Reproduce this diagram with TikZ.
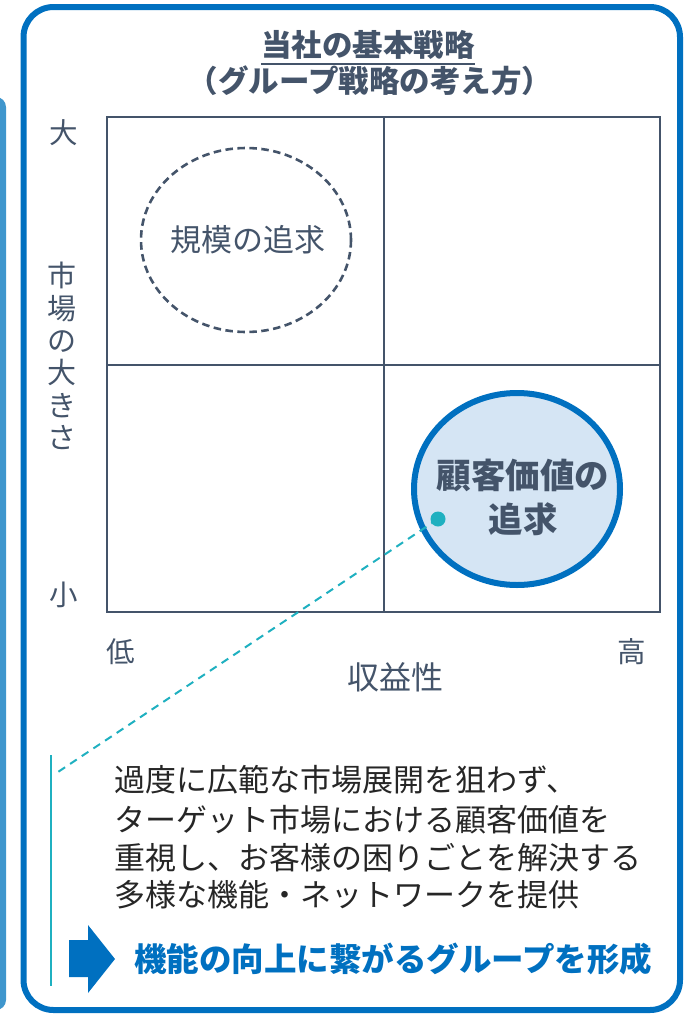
\documentclass[tikz,border=0pt]{standalone}
\usepackage{fontspec}
\usetikzlibrary{shapes.geometric}
\setmainfont{Noto Sans CJK JP}
\definecolor{frameblue}{HTML}{0070C0}
\definecolor{slate}{HTML}{44546A}
\definecolor{lightfill}{HTML}{D5E5F4}
\definecolor{teal}{HTML}{1FB0C0}
\definecolor{bodytext}{HTML}{262626}
\definecolor{barblue}{HTML}{3F96CD}
\begin{document}
\begin{tikzpicture}[x=1pt,y=-1pt,
  lbl/.style={text=slate,font=\fontsize{28.5}{30}\selectfont,inner sep=0pt},
  body/.style={text=bodytext,font=\fontsize{31}{33}\selectfont,inner sep=0pt,anchor=west},
  gridline/.style={draw=slate,line width=2pt}]
\useasboundingbox (0,0) rectangle (690,1015);
% partial neighbouring panel
\fill[barblue,rounded corners=10pt] (-30,97) rectangle (6,1010);
% main frame
\draw[frameblue,line width=6pt,rounded corners=30pt] (23.5,7) rectangle (680,1010);
% title
\node[text=slate,font=\bfseries\fontsize{30.5}{32}\selectfont,inner sep=0pt] (t1) at (368,45) {当社の基本戦略};
\draw[slate,line width=2pt] ([yshift=-4pt]t1.south west) -- ([yshift=-4pt]t1.south east);
\node[text=slate,font=\bfseries\fontsize{30.5}{32}\selectfont,inner sep=0pt] (t2) at (370,81) {（グループ戦略の考え方）};
% grid
\draw[gridline] (107,117) rectangle (660,612);
\draw[gridline] (384,117) -- (384,612);
\draw[gridline] (107,365) -- (660,365);
% axis labels
\node[lbl] (big) at (64,133) {大};
\node[lbl] (small) at (64,595) {小};
\node[lbl,align=center,font=\fontsize{29}{32.4}\selectfont] (ylab) at (62,356) {市\\場\\の\\大\\き\\さ};
\node[lbl] (low) at (121,652) {低};
\node[lbl] (high) at (632,652) {高};
\node[lbl,font=\fontsize{32}{34}\selectfont] (xlab) at (395,677) {収益性};
% dashed circle
\draw[slate,line width=2.6pt,dash pattern=on 7.5pt off 4.5pt] (246,240) ellipse [x radius=105pt,y radius=92pt];
\node[text=slate,font=\fontsize{31}{33}\selectfont,inner sep=0pt] (scale) at (248,240) {規模の追求};
% blue ellipse
\draw[frameblue,fill=lightfill,line width=6pt] (517,489) ellipse [x radius=103pt,y radius=96pt];
\node[text=slate,font=\bfseries\fontsize{34.5}{44}\selectfont,align=center,inner sep=0pt] (value) at (523,497) {顧客価値の\\追求};
% teal dot and dashed connector
\fill[teal] (438,519) circle (7.5pt);
\coordinate (dot) at (438,519);
\coordinate (lineend) at (58,772);
\draw[teal,line width=2pt,dash pattern=on 8pt off 6pt] (dot) -- (lineend);
\coordinate (vtop) at (51,755);
\coordinate (vbot) at (51,986);
\draw[teal,line width=2.5pt] (vtop) -- (vbot);
% body text
\node[body] (b1) at (114,780) {過度に広範な市場展開を狙わず、};
\node[body] (b2) at (114,820) {ターゲット市場における顧客価値を};
\node[body] (b3) at (114,858) {重視し、お客様の困りごとを解決する};
\node[body] (b4) at (114,895) {多様な機能・ネットワークを提供};
% arrow
\fill[frameblue] (69,940) -- (88,940) -- (88,925) -- (115,959) -- (88,993) -- (88,977) -- (69,977) -- cycle;
\node[text=frameblue,font=\bfseries\fontsize{32.5}{34}\selectfont,inner sep=0pt,anchor=west] (concl) at (134,959) {機能の向上に繋がるグループを形成};
\end{tikzpicture}
\end{document}
